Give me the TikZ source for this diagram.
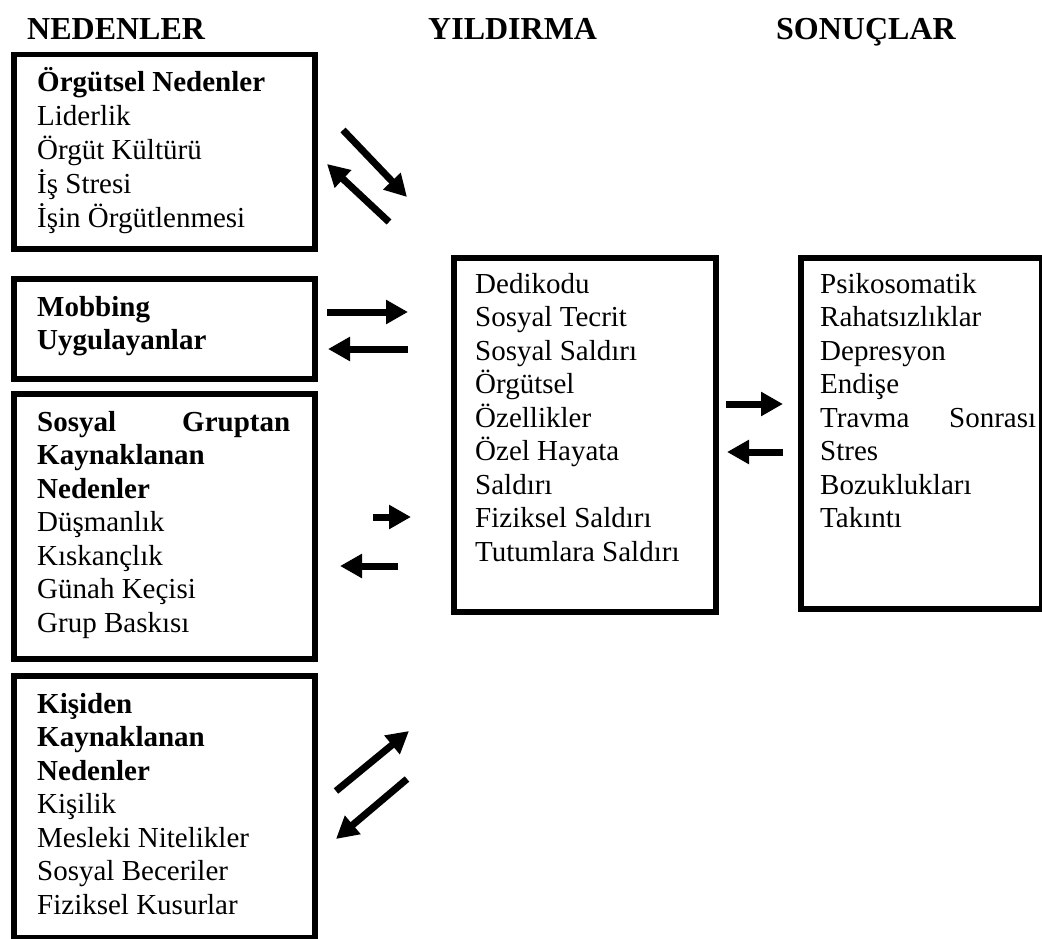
\documentclass[tikz,border=0pt]{standalone}
\usepackage{fontspec}
\setmainfont{Liberation Serif}
\usetikzlibrary{arrows.meta}
\newcommand{\bodyfont}{\fontsize{29}{33.5}\selectfont}
\newcommand{\headfont}{\fontsize{32}{36}\selectfont\bfseries}
\tikzset{
  box/.style={draw, line width=5.5pt, inner sep=0pt, anchor=north west},
  arr/.style={line width=7pt, -{Triangle[length=22pt,width=23pt]}},
  body/.style={anchor=base west, inner sep=0pt, font=\bodyfont},
  head/.style={anchor=base west, inner sep=0pt, font=\headfont}
}
\begin{document}
\begin{tikzpicture}[x=1pt,y=-1pt]
\useasboundingbox (0,0) rectangle (1042,939);
% headings
\node[head] (h1) at (27,40) {NEDENLER};
\node[head] (h2) at (428,40) {YILDIRMA};
\node[head] (h3) at (776,40) {SONUÇLAR};
% boxes
\node[box, minimum width=301pt, minimum height=194pt] (b1) at (11,52) {};
\node[box, minimum width=301pt, minimum height=100pt] (b2) at (11,276) {};
\node[box, minimum width=301pt, minimum height=265pt] (b3) at (11,391) {};
\node[box, minimum width=301pt, minimum height=262pt] (b4) at (11,673) {};
\node[box, minimum width=262pt, minimum height=354pt] (m) at (451,255) {};
\node[box, minimum width=241pt, minimum height=351pt] (r) at (798,255) {};
% texts
\node[body] (t1) at (37,92) {\begin{tabular}[t]{@{}l@{}}
\textbf{Örgütsel Nedenler}\\ Liderlik\\ Örgüt Kültürü\\ İş Stresi\\ İşin Örgütlenmesi
\end{tabular}};
\node[body] (t2) at (37,316) {\begin{tabular}[t]{@{}l@{}}
\textbf{Mobbing}\\ \textbf{Uygulayanlar}
\end{tabular}};
\node[body] (t3) at (37,431) {\begin{tabular}[t]{@{}l@{}}
\makebox[253pt][s]{\textbf{Sosyal Gruptan}}\\ \textbf{Kaynaklanan}\\ \textbf{Nedenler}\\ Düşmanlık\\ Kıskançlık\\ Günah Keçisi\\ Grup Baskısı
\end{tabular}};
\node[body] (t4) at (37,713) {\begin{tabular}[t]{@{}l@{}}
\textbf{Kişiden}\\ \textbf{Kaynaklanan}\\ \textbf{Nedenler}\\ Kişilik\\ Mesleki Nitelikler\\ Sosyal Beceriler\\ Fiziksel Kusurlar
\end{tabular}};
\node[body] (tm) at (475,293) {\begin{tabular}[t]{@{}l@{}}
Dedikodu\\ Sosyal Tecrit\\ Sosyal Saldırı\\ Örgütsel\\ Özellikler\\ Özel Hayata\\ Saldırı\\ Fiziksel Saldırı\\ Tutumlara Saldırı
\end{tabular}};
\node[body] (tr) at (820,293) {\begin{tabular}[t]{@{}l@{}}
Psikosomatik\\ Rahatsızlıklar\\ Depresyon\\ Endişe\\ \makebox[216pt][s]{Travma Sonrası}\\ Stres\\ Bozuklukları\\ Takıntı
\end{tabular}};
% arrow end points
\coordinate (a1s) at (343,130); \coordinate (a1e) at (407,197);
\coordinate (a2s) at (389,222); \coordinate (a2e) at (327,164);
\coordinate (a3s) at (327,312); \coordinate (a3e) at (408,312);
\coordinate (a4s) at (408,349); \coordinate (a4e) at (328,349);
\coordinate (a5s) at (373,517); \coordinate (a5e) at (411,517);
\coordinate (a6s) at (398,566); \coordinate (a6e) at (340,566);
\coordinate (a7s) at (726,404); \coordinate (a7e) at (783,404);
\coordinate (a8s) at (783,452); \coordinate (a8e) at (727,452);
\coordinate (a9s) at (336,791); \coordinate (a9e) at (409,731);
\coordinate (a10s) at (407,779); \coordinate (a10e) at (336,839);
\draw[arr] (a1s) -- (a1e);
\draw[arr] (a2s) -- (a2e);
\draw[arr] (a3s) -- (a3e);
\draw[arr] (a4s) -- (a4e);
\draw[arr] (a5s) -- (a5e);
\draw[arr] (a6s) -- (a6e);
\draw[arr] (a7s) -- (a7e);
\draw[arr] (a8s) -- (a8e);
\draw[arr] (a9s) -- (a9e);
\draw[arr] (a10s) -- (a10e);
\end{tikzpicture}
\end{document}
